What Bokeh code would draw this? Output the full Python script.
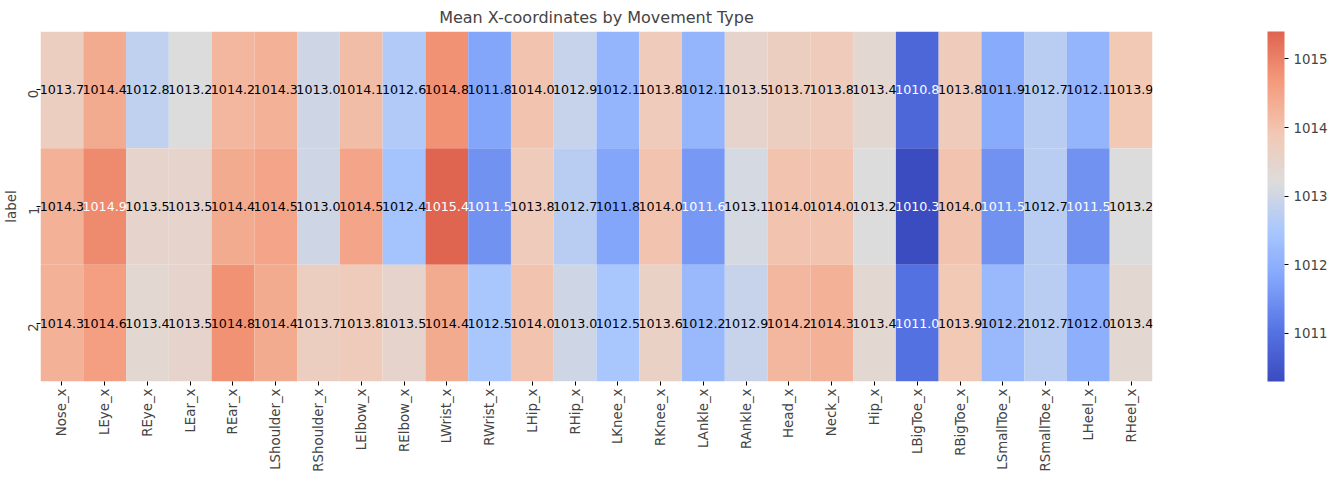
import numpy as np
from bokeh.plotting import figure
from bokeh.models import ColumnDataSource, LinearColorMapper, ColorBar, FixedTicker
from bokeh.embed import file_html
from bokeh.resources import INLINE
from bokeh.core.properties import value

joints = ["Nose_x", "LEye_x", "REye_x", "LEar_x", "REar_x", "LShoulder_x", "RShoulder_x",
          "LElbow_x", "RElbow_x", "LWrist_x", "RWrist_x", "LHip_x", "RHip_x", "LKnee_x",
          "RKnee_x", "LAnkle_x", "RAnkle_x", "Head_x", "Neck_x", "Hip_x", "LBigToe_x",
          "RBigToe_x", "LSmallToe_x", "RSmallToe_x", "LHeel_x", "RHeel_x"]
labels = ["0", "1", "2"]
row0 = [1013.7, 1014.4, 1012.8, 1013.2, 1014.2, 1014.3, 1013.0, 1014.1, 1012.6, 1014.8, 1011.8, 1014.0, 1012.9,
        1012.1, 1013.8, 1012.1, 1013.5, 1013.7, 1013.8, 1013.4, 1010.8, 1013.8, 1011.9, 1012.7, 1012.1, 1013.9]
row1 = [1014.3, 1014.9, 1013.5, 1013.5, 1014.4, 1014.5, 1013.0, 1014.5, 1012.4, 1015.4, 1011.5, 1013.8, 1012.7,
        1011.8, 1014.0, 1011.6, 1013.1, 1014.0, 1014.0, 1013.2, 1010.3, 1014.0, 1011.5, 1012.7, 1011.5, 1013.2]
row2 = [1014.3, 1014.6, 1013.4, 1013.5, 1014.8, 1014.4, 1013.7, 1013.8, 1013.5, 1014.4, 1012.5, 1014.0, 1013.0,
        1012.5, 1013.6, 1012.2, 1012.9, 1014.2, 1014.3, 1013.4, 1011.0, 1013.9, 1012.2, 1012.7, 1012.0, 1013.4]
rows = [row0, row1, row2]

# coolwarm-like palette
anchors = [(0.0, (59, 76, 192)), (0.14, (85, 114, 227)), (0.29, (130, 165, 251)),
           (0.43, (170, 199, 253)), (0.57, (221, 220, 220)), (0.71, (242, 200, 180)),
           (0.86, (244, 154, 123)), (1.0, (224, 101, 80))]
palette = []
for i in range(256):
    t = i / 255
    for (a, ca), (b, cb) in zip(anchors[:-1], anchors[1:]):
        if a <= t <= b:
            f = (t - a) / (b - a)
            c = [int(round(ca[k] + f * (cb[k] - ca[k]))) for k in range(3)]
            palette.append("#%02x%02x%02x" % tuple(c))
            break

xs, ys, vs, txt, tcol = [], [], [], [], []
for lab, r in zip(labels, rows):
    for j, v in zip(joints, r):
        xs.append(j); ys.append(lab); vs.append(v); txt.append("%.1f" % v)
        tcol.append("white" if (v < 1011.7 or v > 1014.85) else "black")
src = ColumnDataSource(dict(x=xs, y=ys, v=vs, t=txt, c=tcol))

vmin, vmax = min(min(r) for r in rows), max(max(r) for r in rows)
mapper = LinearColorMapper(palette=palette, low=vmin, high=vmax)

p = figure(width=1330, height=474, x_range=joints, y_range=list(reversed(labels)),
           output_backend="svg", toolbar_location=None, min_border_left=20,
           min_border_top=24, min_border_bottom=10,
           title="Mean X-coordinates by Movement Type")
p.title.align = "center"
p.title.text_font = "DejaVu Sans"
p.title.text_font_size = "12pt"
p.title.text_font_style = "normal"
p.rect(x="x", y="y", width=1, height=1, source=src,
       fill_color={"field": "v", "transform": mapper}, line_color=None)
p.text(x="x", y="y", text="t", source=src, text_color="c", text_align="center",
       text_baseline="middle", text_font=value("DejaVu Sans"), text_font_size="9.5pt")
p.grid.visible = False
p.outline_line_color = None
for ax in (p.xaxis, p.yaxis):
    ax.axis_line_color = None
    ax.major_tick_line_color = "black"
    ax.minor_tick_line_color = None
    ax.major_label_text_font = "DejaVu Sans"
    ax.major_label_text_font_size = "10pt"
    ax.major_tick_in = 0
    ax.major_tick_out = 4
    ax.major_label_standoff = 3
p.xaxis.major_label_orientation = np.pi / 2
p.yaxis.major_label_orientation = np.pi / 2
p.yaxis.axis_label = "label"
p.yaxis.axis_label_text_font = "DejaVu Sans"
p.yaxis.axis_label_text_font_size = "10pt"
p.yaxis.axis_label_text_font_style = "normal"
p.yaxis.axis_label_standoff = 2

cb = ColorBar(color_mapper=mapper, width=17, margin=0, padding=0, location=(115, 0),
              ticker=FixedTicker(ticks=[1011, 1012, 1013, 1014, 1015]),
              major_label_text_font="DejaVu Sans", major_label_text_font_size="10pt",
              major_tick_line_color="black", major_tick_in=0, major_tick_out=4,
              bar_line_color=None)
p.add_layout(cb, "right")
p.min_border_right = 0

open("out.html", "w").write(file_html(p, INLINE))
